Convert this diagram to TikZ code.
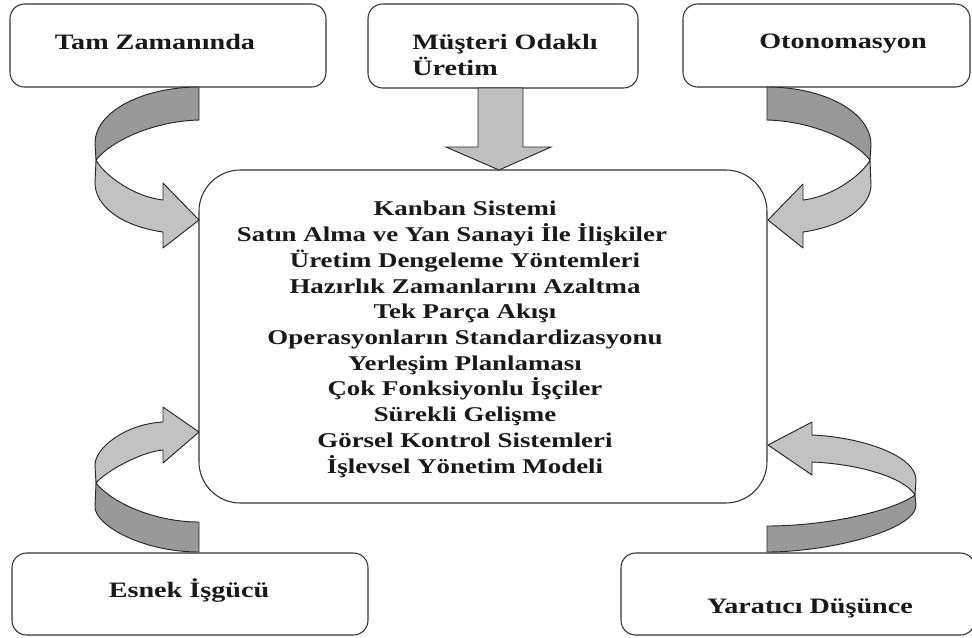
\documentclass[tikz,border=0pt]{standalone}
\usepackage{fontspec}
\setmainfont{Liberation Serif}[FakeStretch=1.28]
\begin{document}
\begin{tikzpicture}[x=0.75pt,y=-0.75pt,
  box/.style={draw=black!80,line width=0.8pt,rounded corners=11pt,fill=white},
  lbl/.style={inner sep=0pt,text=black!90,font=\fontsize{16.5pt}{19.5pt}\selectfont\bfseries},
  listtxt/.style={inner sep=0pt,text=black!90,align=center,font=\fontsize{15.75pt}{19.3pt}\selectfont\bfseries},
  darkband/.style={draw=black!85,line width=0.7pt,line join=round,fill=black!40},
  lightband/.style={draw=black!85,line width=0.7pt,line join=round,fill=black!24},
  downarrow/.style={draw=black!85,line width=0.7pt,line join=miter,fill=black!25}]

\useasboundingbox[fill=white] (0,0) rectangle (972,637);

% outer boxes
\draw[box] (10,4) rectangle (326,87);
\draw[box] (368,4) rectangle (638,88);
\draw[box] (683,4) rectangle (970,87);
\draw[box] (12,553) rectangle (368,635);
\draw[box] (621,553) rectangle (975,635);

% central box with the list of practices
\draw[box,rounded corners=31pt] (199,170) rectangle (767,503);

\node[lbl,anchor=base] (tz) at (155,49) {Tam Zamanında};
\node[lbl,anchor=north west,align=left] (mo) at (412,33.5) {Müşteri Odaklı\\Üretim};
\node[lbl,anchor=base] (ot) at (843,48) {Otonomasyon};
\node[lbl,anchor=base] (ei) at (189,597) {Esnek İşgücü};
\node[lbl,anchor=base] (yd) at (810,613) {Yaratıcı Düşünce};

\node[listtxt,anchor=north] (list) at (465,201) {Kanban Sistemi\\
\hbox{Satın Alma ve Yan Sanayi İle İlişkiler\kern19.5pt}\\
Üretim Dengeleme Yöntemleri\\
Hazırlık Zamanlarını Azaltma\\
Tek Parça Akışı\\
Operasyonların Standardizasyonu\\
Yerleşim Planlaması\\
Çok Fonksiyonlu İşçiler\\
Sürekli Gelişme\\
Görsel Kontrol Sistemleri\\
İşlevsel Yönetim Modeli};

% straight block arrow from the top middle box
\draw[downarrow] (478,88) -- (523,88) -- (523,147) -- (551,147) -- (499,170)
  -- (446,147) -- (478,147) -- cycle;

% curved ribbon arrow, top left
\draw[darkband] (199,87) .. controls (142,87) and (95,112) .. (95,143)
  -- (96,160) .. controls (112,140) and (155,121) .. (199,120) -- cycle;
\draw[lightband] (96,160) .. controls (102,172) and (130,196) .. (163,200)
  -- (163,183) -- (199,220) -- (163,248) -- (163,232)
  .. controls (120,226) and (95,205) .. (95,183) -- cycle;

% curved ribbon arrow, top right
\draw[darkband] (767,87) .. controls (824,87) and (871,112) .. (871,145)
  -- (870,160) .. controls (854,140) and (811,121) .. (767,120) -- cycle;
\draw[lightband] (870,160) .. controls (864,172) and (836,196) .. (803,200)
  -- (803,184) -- (768,220) -- (803,248) -- (803,232)
  .. controls (846,226) and (871,205) .. (871,185) -- cycle;

% curved ribbon arrow, bottom left
\draw[darkband] (199,552) .. controls (142,552) and (95,525) .. (95,507)
  -- (96,483) .. controls (112,503) and (155,522) .. (199,522) -- cycle;
\draw[lightband] (96,483) -- (95,465) .. controls (95,448) and (125,424) .. (163,422)
  -- (163,407) -- (199,432) -- (163,463) -- (163,450)
  .. controls (140,452) and (105,472) .. (96,483) -- cycle;

% curved ribbon arrow, bottom right
\draw[darkband] (767,552) .. controls (830,552) and (916,530) .. (916,505)
  -- (915,495) .. controls (895,510) and (830,526) .. (767,526) -- cycle;
\draw[lightband] (915,495) -- (916,480) .. controls (916,455) and (860,437) .. (812,435)
  -- (812,422) -- (768,445) -- (812,475) -- (812,462)
  .. controls (860,464) and (905,478) .. (915,495) -- cycle;
\end{tikzpicture}
\end{document}
